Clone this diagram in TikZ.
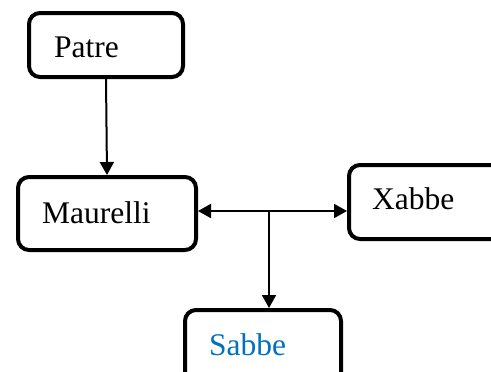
\documentclass[tikz,border=0pt]{standalone}
\usepackage{fontspec}
\setmainfont{Liberation Serif}
\usetikzlibrary{arrows.meta}
\definecolor{txtblue}{HTML}{0070C0}
\begin{document}
\begin{tikzpicture}[x=1pt,y=-1pt,
  box/.style={draw, line width=4pt, rounded corners=11pt, inner sep=0pt, fill=white},
  lbl/.style={anchor=base west, inner sep=0pt, font=\fontsize{31.5}{36}\selectfont},
  conn/.style={line width=2pt, -{Triangle[length=13pt,width=14pt]}}]
\useasboundingbox (0,0) rectangle (491,372);
\clip (0,0) rectangle (491,372);
\node[box, minimum width=154pt, minimum height=64pt] (patre) at (106,45) {};
\node[box, minimum width=178pt, minimum height=73pt] (maurelli) at (107,213.5) {};
\node[box, minimum width=161pt, minimum height=74pt] (xabbe) at (429.5,202) {};
\node[box, minimum width=156pt, minimum height=90pt] (sabbe) at (263,355) {};
\node[lbl] (tpatre) at (54,57) {Patre};
\node[lbl] (tmaurelli) at (42,223) {Maurelli};
\node[lbl] (txabbe) at (372,209) {Xabbe};
\node[lbl, text=txtblue] (tsabbe) at (209,355) {Sabbe};
\coordinate (j) at (269,211);
\draw[conn] (patre.south) -- (maurelli.north);
\draw[conn, {Triangle[length=13pt,width=14pt]}-{Triangle[length=13pt,width=14pt]}] (maurelli.east |- j) -- (xabbe.west |- j);
\draw[conn] (j) -- (j |- sabbe.north);
\end{tikzpicture}
\end{document}
